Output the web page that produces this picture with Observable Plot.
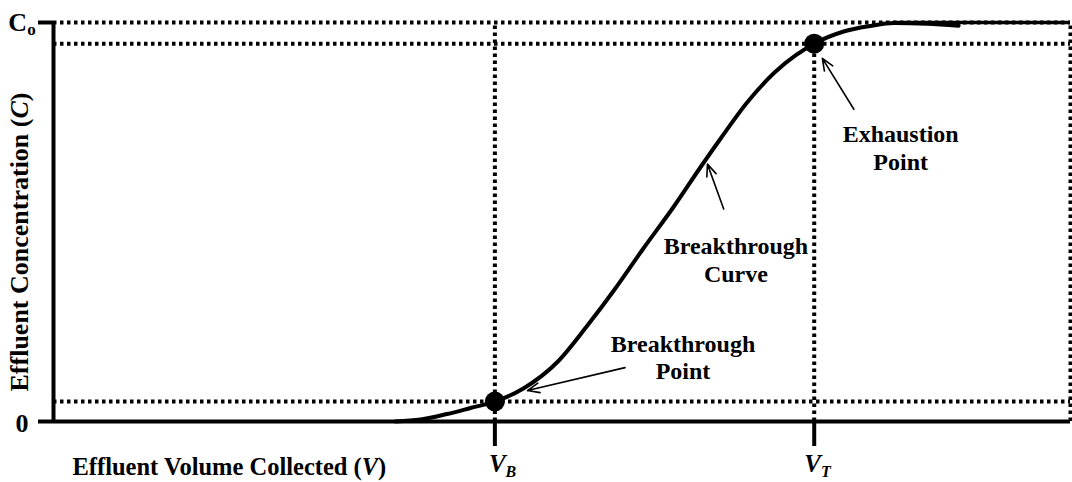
<!DOCTYPE html>
<html><head><meta charset="utf-8">
<script src="https://cdn.jsdelivr.net/npm/d3@7"></script>
<script src="https://cdn.jsdelivr.net/npm/@observablehq/plot@0.6"></script>
<style>
body{margin:0;background:#fff;}
#chart svg{display:block;}
</style></head><body><div id="chart"></div>
<script>
// Breakthrough curve (effluent volume vs effluent concentration, C0 = 1)
const volume = [33.6, 36.1, 38.7, 41.0, 43.4, 46.2, 49.6, 52.5, 55.1, 58.0, 61.0, 63.6, 65.6, 68.2, 70.9, 72.96, 74.8, 77.7, 80.3, 82.6, 85.9, 89.0];
const concentration = [0, 0.005, 0.0188, 0.0338, 0.05, 0.0827, 0.1504, 0.2406, 0.3283, 0.4336, 0.5388, 0.6366, 0.7093, 0.7995, 0.8747, 0.9173, 0.947, 0.9774, 0.9912, 0.9987, 0.997, 0.992];

// key points
const keyLabels = ["V_B", "V_T"];
const keyVolumes = [43.4, 74.8];
const keyConc = [0.05, 0.947];

// y ticks
const yTickValues = [0, 1];
const yTickLabels = ["0", "C_o"];

// guide lines
const guideLevels = [1, 0.947, 0.05];
const guideVolumes = [43.4, 74.8, 100];
const guideTops = [1, 0.947, 1];
const plateauStart = 82.6;
const xMax = 100;

// annotations
const annText = ["Breakthrough\nPoint", "Breakthrough\nCurve", "Exhaustion\nPoint"];
const annX = [61.9, 67.1, 83.3];
const annY = [0.1625, 0.4075, 0.6875];
const arrowX1 = [56.2, 65.9, 78.7];
const arrowY1 = [0.135, 0.5325, 0.7825];
const arrowX2 = [46.6, 64.3, 75.6];
const arrowY2 = [0.0775, 0.645, 0.91];

const xLabel = "Effluent Volume Collected (V)";
const yLabel = "Effluent Concentration (C)";

const dotted = {stroke: "black", strokeWidth: 4, strokeDasharray: "3.5,3.5"};

const chart = Plot.plot({
  width: 1072,
  height: 482,
  marginLeft: 53,
  marginRight: 2,
  marginTop: 22,
  marginBottom: 61,
  x: {domain: [0, xMax]},
  y: {domain: [0, 1]},
  style: {fontFamily: "'Liberation Serif', 'Times New Roman', serif", fontWeight: "bold", fontSize: "24px", color: "black", background: "white"},
  marks: [
    Plot.ruleY(guideLevels, dotted),
    Plot.ruleX(guideVolumes, {...dotted, y1: 0, y2: guideTops}),
    Plot.ruleY([1], {x1: plateauStart, x2: xMax, stroke: "black", strokeWidth: 3.5}),
    Plot.ruleX([0], {stroke: "black", strokeWidth: 4}),
    Plot.ruleY([0], {stroke: "black", strokeWidth: 4}),
    Plot.axisY(yTickValues, {tickSize: 15, tickPadding: 16.5, textAnchor: "middle", strokeWidth: 4, fontSize: 26, label: null,
      tickFormat: d => yTickLabels[yTickValues.indexOf(d)]}),
    Plot.axisX(keyVolumes, {tickSize: 25, tickPadding: 8, strokeWidth: 4, fontSize: 25, fontStyle: "italic", textAnchor: "start", label: null,
      tickFormat: d => keyLabels[keyVolumes.indexOf(d)]}),
    Plot.line(volume, {x: volume, y: concentration, curve: "monotone-x", stroke: "black", strokeWidth: 4}),
    Plot.dot(keyVolumes, {x: keyVolumes, y: keyConc, r: 10, fill: "black", stroke: null}),
    Plot.arrow(arrowX1, {x1: arrowX1, y1: arrowY1, x2: arrowX2, y2: arrowY2, stroke: "black", strokeWidth: 1.6, headLength: 12, headAngle: 45}),
    Plot.text(annText, {x: annX, y: annY, fontSize: 24, lineHeight: 1.15, textAnchor: "middle", lineAnchor: "middle", fill: "black"}),
    Plot.text([xLabel], {frameAnchor: "bottom-left", dx: 19, dy: 46, textAnchor: "start", lineAnchor: "middle", fontSize: 24.5, fill: "black"}),
    Plot.text([yLabel], {frameAnchor: "left", rotate: -90, dx: -34, dy: 20, textAnchor: "middle", lineAnchor: "middle", fontSize: 26, fill: "black"})
  ]
});

const NS = "http://www.w3.org/2000/svg";
function span(txt, attrs) {
  const t = document.createElementNS(NS, "tspan");
  t.textContent = txt;
  for (const k in attrs) t.setAttribute(k, attrs[k]);
  return t;
}
chart.querySelectorAll("text").forEach(el => {
  const s = el.textContent;
  if (el.querySelector("tspan")) return;
  if (s === "C_o") {
    el.textContent = "";
    el.appendChild(span("C", {}));
    el.appendChild(span("o", {"font-size": 17, dy: 4}));
  } else if (s === "0") {
    el.setAttribute("dy", (parseFloat(el.getAttribute("dy")) || 0) + 2);
  } else if (s === "V_B" || s === "V_T") {
    el.textContent = "";
    el.appendChild(span("V", {dx: s === "V_B" ? -6 : -10}));
    el.appendChild(span(s.slice(2), {"font-size": 16, dy: 5}));
  } else if (s === xLabel || s === yLabel) {
    const letter = s === xLabel ? "V" : "C";
    el.textContent = "";
    el.appendChild(span(s.slice(0, s.length - 2), {}));
    el.appendChild(span(letter, {"font-style": "italic"}));
    el.appendChild(span(")", {}));
  }
});
document.getElementById("chart").appendChild(chart);
</script></body></html>
